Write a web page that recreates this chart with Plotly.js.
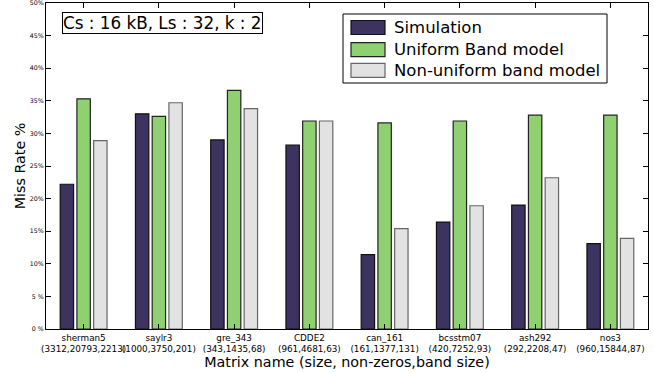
<!DOCTYPE html>
<html>
<head>
<meta charset="utf-8">
<script src="https://cdn.plot.ly/plotly-3.0.1.min.js"></script>
<style>html,body{margin:0;padding:0;background:#fff;}#chart{width:654px;height:373px;}</style>
</head>
<body>
<div id="chart"></div>
<script>
const matrices = ["sherman5","saylr3","gre_343","CDDE2","can_161","bcsstm07","ash292","nos3"];
const details = ["(3312,20793,2213)","(1000,3750,201)","(343,1435,68)","(961,4681,63)","(161,1377,131)","(420,7252,93)","(292,2208,47)","(960,15844,87)"];
const seriesNames = ["Simulation","Uniform Band model","Non-uniform band model"];
const simulation = [22.2, 33.0, 29.0, 28.2, 11.4, 16.4, 19.0, 13.1];
const uniformBand = [35.3, 32.6, 36.6, 31.9, 31.6, 31.9, 32.8, 32.8];
const nonUniformBand = [28.9, 34.7, 33.8, 31.9, 15.4, 18.9, 23.2, 13.9];
const yTickVals = [0,5,10,15,20,25,30,35,40,45,50];
const yTickText = ["0 %","5 %","10%","15%","20%","25%","30%","35%","40%","45%","50%"];

const catLabels = matrices.map((m,i)=> m + "<br>" + details[i]);
const font = "DejaVu Sans, sans-serif";
const fills = ["#3d3360","#8fd070","#e2e2e2"];
const edges = ["#111","#222","#666"];
const values = [simulation, uniformBand, nonUniformBand];

const traces = values.map((v,i) => ({
  type:"bar", name:seriesNames[i], x: catLabels, y: v,
  marker:{color:fills[i], line:{color:edges[i], width:1.2}},
  hoverinfo:"skip", showlegend:false
}));

// plot-area pixel helpers (margins below)
const L=46, R=6, T=3, B=44, W=654, H=373;
const pw=W-L-R, ph=H-T-B;
const px = x => (x-L)/pw;
const py = y => (H-B-y)/ph;

const shapes = [{type:"rect", xref:"paper", yref:"paper",
  x0:px(343), x1:px(607), y0:py(83), y1:py(14),
  line:{color:"#000", width:1}, fillcolor:"#fff", layer:"above"}];
const annotations = [{
  text:"Cs : 16 kB, Ls : 32, k : 2", xref:"paper", yref:"paper",
  x:px(62), y:py(12), xanchor:"left", yanchor:"top", showarrow:false,
  font:{size:16.8, family:font}, bordercolor:"#000", borderwidth:1, borderpad:0, bgcolor:"#fff"
}];
const rowY = [27.5, 49.7, 70.3];
seriesNames.forEach((n,i)=>{
  shapes.push({type:"rect", xref:"paper", yref:"paper",
    x0:px(351), x1:px(385), y0:py(rowY[i]+7), y1:py(rowY[i]-7),
    line:{color:edges[i], width:1.2}, fillcolor:fills[i], layer:"above"});
  annotations.push({text:n, xref:"paper", yref:"paper", x:px(392), y:py(rowY[i]),
    xanchor:"left", yanchor:"middle", showarrow:false, font:{size:16.5, family:font}});
});

const layout = {
  width:W, height:H,
  margin:{l:L, r:R, t:T, b:B},
  paper_bgcolor:"#fff", plot_bgcolor:"#fff",
  font:{family:font, color:"#000"},
  barmode:"group", bargap:0.333, bargroupgap:0.2,
  showlegend:false,
  xaxis:{range:[-0.5,7.5], showline:true, mirror:"ticks", linecolor:"#000", linewidth:1,
    ticks:"inside", ticklen:5, tickcolor:"#000", tickangle:0,
    tickfont:{size:8.8, family:font}, showgrid:false, zeroline:false, automargin:false,
    ticklabeloverflow:"allow",
    title:{text:"Matrix name (size, non-zeros,band size)", font:{size:14.3, family:font}, standoff:0}},
  yaxis:{range:[0,50], showline:true, mirror:"ticks", linecolor:"#000", linewidth:1,
    ticks:"inside", ticklen:5, tickcolor:"#000",
    tickvals:yTickVals, ticktext:yTickText, ticklabeloverflow:"allow",
    tickfont:{size:6.3, family:font}, showgrid:false, zeroline:false, automargin:false,
    title:{text:"Miss Rate %", font:{size:14.3, family:font}, standoff:0}},
  shapes: shapes,
  annotations: annotations
};

Plotly.newPlot("chart", traces, layout, {displayModeBar:false, staticPlot:true});
</script>
</body>
</html>
